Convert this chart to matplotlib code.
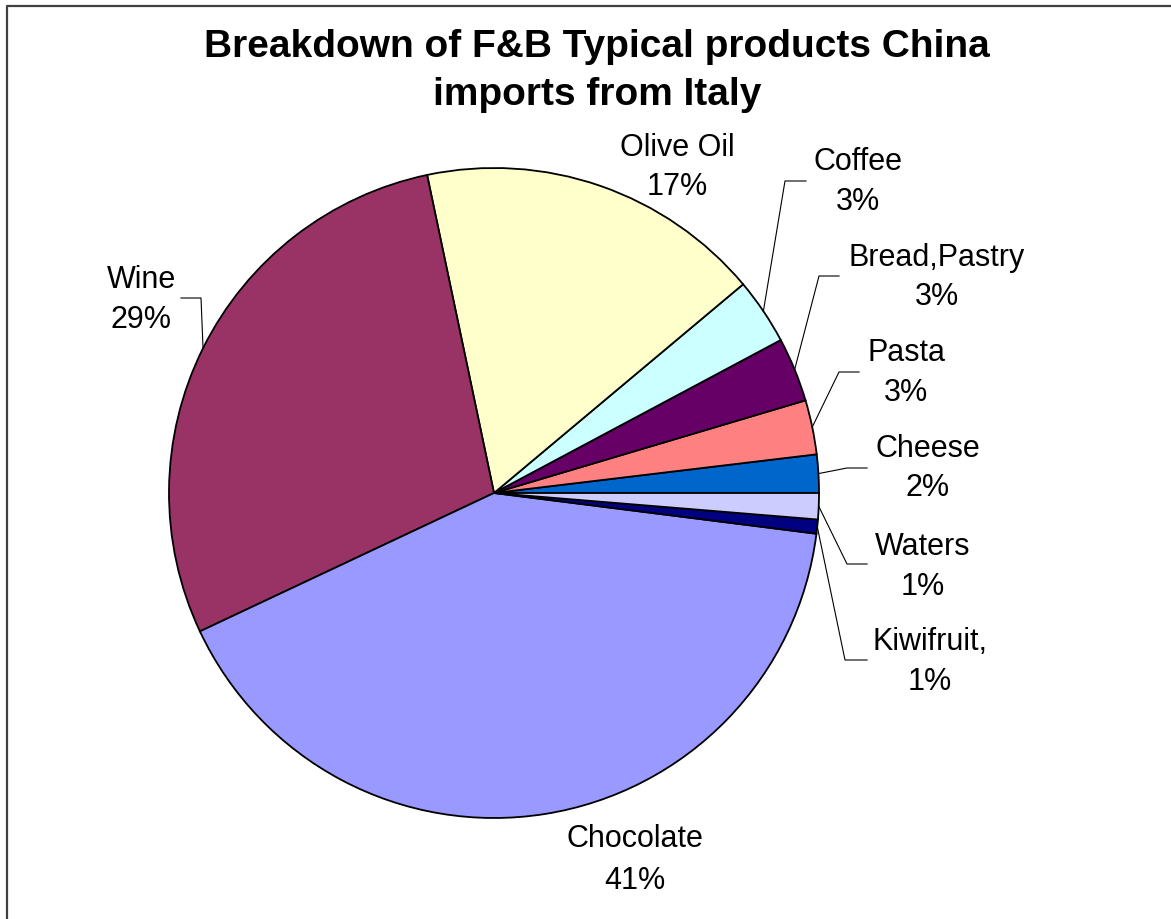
import numpy as np
import matplotlib.pyplot as plt

# share of Italian F&B typical products imported by China (%)
products = ["Cheese", "Pasta", "Bread,Pastry", "Coffee", "Olive Oil",
            "Wine", "Chocolate", "Kiwifruit,", "Waters"]
shares = [1.9, 2.7, 3.2, 3.3, 17.2, 28.7, 41.0, 0.7, 1.3]
colors = ["#0066CC", "#FF8080", "#660066", "#CCFFFF", "#FFFFCC",
          "#993366", "#9999FF", "#000080", "#CCCCFF"]
title_lines = ["Breakdown of F&B Typical products China", "imports from Italy"]

W, H = 1171, 920
plt.rcParams['font.family'] = ['Liberation Sans', 'DejaVu Sans']

fig = plt.figure(figsize=(W / 100, H / 100), dpi=100)
ax = fig.add_axes([0, 0, 1, 1])

cx, cy, r = 494, H - 494, 325
wedges, _ = ax.pie(shares, colors=colors, startangle=0, counterclock=True,
                   center=(cx, cy), radius=r, frame=True,
                   wedgeprops=dict(edgecolor='black', linewidth=1.3))
ax.set_xlim(0, W)
ax.set_ylim(0, H)
ax.set_aspect('equal')
ax.axis('off')

# label layout in pixels from the top-left: text centre x, y of name line,
# y of percent line, and optional leader (elbow x, elbow y, end x)
layout = {
    "Cheese":       (928, 449, 488, (847, 469, 867)),
    "Pasta":        (906, 353, 393, (839, 373, 859)),
    "Bread,Pastry": (937, 258, 297, (819, 277, 839)),
    "Coffee":       (858, 162, 202, (785, 182, 806)),
    "Olive Oil":    (677, 148, 187, None),
    "Wine":         (141, 280, 320, (201, 299, 181)),
    "Chocolate":    (635, 839, 881, None),
    "Kiwifruit,":   (930, 642, 682, (845, 661, 867)),
    "Waters":       (923, 547, 587, (847, 565, 867)),
}

for w, name, v in zip(wedges, products, shares):
    tx, y1, y2, leader = layout[name]
    ax.text(tx, H - y1, name, fontsize=22, ha='center', va='center')
    ax.text(tx, H - y2, f"{round(v)}%", fontsize=22, ha='center', va='center')
    if leader is not None:
        mid = np.deg2rad((w.theta1 + w.theta2) / 2)
        ex, ey, endx = leader
        px, py = cx + r * np.cos(mid), cy + r * np.sin(mid)
        ax.plot([px, ex, endx], [py, H - ey, H - ey], color='black',
                linewidth=0.8, zorder=1)

# two-line title
for line, ty in zip(title_lines, [47, 95]):
    ax.text(597, H - ty, line, fontsize=28, fontweight='bold',
            ha='center', va='center')

# chart border (only left and top edges fall inside the image)
ax.plot([7, 7, W + 5], [-5, H - 7, H - 7], color='#404040', linewidth=1.6,
        clip_on=False)

fig.savefig("out.png", dpi=100)
